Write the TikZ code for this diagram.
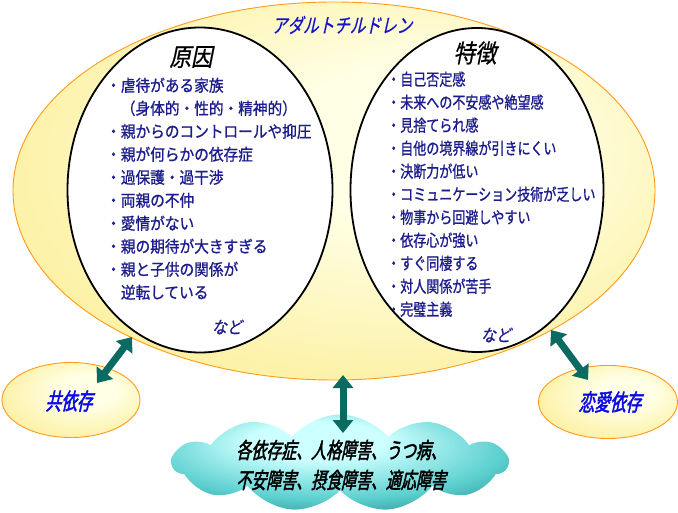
\documentclass[tikz,border=0pt]{standalone}
\usepackage{fontspec}
\usetikzlibrary{shapes.geometric,shapes.symbols,arrows.meta}

\newfontfamily\jplist[FakeStretch=0.9,FakeBold=0.9]{Noto Sans CJK JP}
\newfontfamily\jplistn[FakeStretch=0.79,FakeBold=0.9]{Noto Sans CJK JP}
\newfontfamily\jptitle[FakeSlant=0.22,FakeStretch=0.78,FakeBold=0.6]{Noto Sans CJK JP}
\newfontfamily\jphead[FakeSlant=0.2,FakeStretch=0.86,FakeBold=0.6]{Noto Sans CJK JP}
\newfontfamily\jpnado[FakeSlant=0.2,FakeStretch=0.88,FakeBold=0.7]{Noto Sans CJK JP}
\newfontfamily\jpbold[FakeSlant=0.22,FakeStretch=0.68,FakeBold=2]{Noto Sans CJK JP}

\definecolor{yIn}{HTML}{FFFFE6}
\definecolor{yOut}{HTML}{FCEE96}
\definecolor{acorange}{HTML}{FF9A1A}
\definecolor{titleblue}{HTML}{1414C8}
\definecolor{listblue}{HTML}{1C1C8C}
\definecolor{labelblue}{HTML}{0A0AE6}
\definecolor{arrowteal}{HTML}{0B6A62}
\definecolor{cIn}{HTML}{CCFFFF}
\definecolor{cMid}{HTML}{5CCFCF}
\definecolor{cOut}{HTML}{1A7A7A}

\pgfdeclareradialshading{yshade}{\pgfpoint{8bp}{8bp}}{color(0bp)=(yIn); color(10bp)=(yIn); color(34bp)=(yOut); color(50bp)=(yOut)}
\pgfdeclareradialshading{cshade}{\pgfpoint{-4bp}{14bp}}{color(0bp)=(cIn); color(10bp)=(cIn); color(26bp)=(cMid); color(40bp)=(cOut); color(50bp)=(cOut)}

\begin{document}
\begin{tikzpicture}[x=1pt,y=-1pt,
	warm/.style={ellipse, draw=acorange, line width=0.9pt, shading=yshade, inner sep=0pt},
	core/.style={ellipse, draw=black, line width=1.8pt, fill=white, inner sep=0pt},
	dbl/.style={{Triangle[width=20pt,length=13pt]}-{Triangle[width=20pt,length=13pt]}, line width=7pt, draw=arrowteal},
	item/.style={anchor=base west, inner sep=0pt, text=listblue}]
	\useasboundingbox (0,0) rectangle (678,513);

	%ellipses
	\node[warm, minimum width=642pt, minimum height=378pt] (ac) at (334,191) {};
	\node[core, minimum width=265pt, minimum height=325pt] (cause) at (200,190) {};
	\node[core, minimum width=253pt, minimum height=324pt] (trait) at (477,190) {};

	\node[font=\jptitle\fontsize{20}{20}\selectfont, text=titleblue] (title) at (342,25) {アダルトチルドレン};
	\node[font=\jphead\fontsize{25}{25}\selectfont] (causehead) at (191,57) {原因};
	\node[font=\jphead\fontsize{25}{25}\selectfont] (traithead) at (475,53) {特徴};

	%lists
	\foreach \t [count=\i from 0] in {・虐待がある家族, 　（身体的・性的・精神的）, ・親からのコントロールや抑圧,
		・親が何らかの依存症, ・過保護・過干渉, ・両親の不仲, ・愛情がない, ・親の期待が大きすぎる,
		・親と子供の関係が, 　逆転している}
		\node[item, font=\jplist\fontsize{16.3}{16.3}\selectfont] (L\i) at (106,{91.5+23*\i}) {\t};
	\foreach \t [count=\i from 0] in {・自己否定感, ・未来への不安感や絶望感, ・見捨てられ感, ・自他の境界線が引きにくい,
		・決断力が低い, ・コミュニケーション技術が乏しい, ・物事から回避しやすい, ・依存心が強い,
		・すぐ同棲する, ・対人関係が苦手, ・完璧主義}
		\node[item, font=\jplistn\fontsize{16.5}{16.5}\selectfont] (R\i) at (387,{85.5+23*\i}) {\t};

	\node[font=\jpnado\fontsize{17}{17}\selectfont, text=listblue] (causeetc) at (227,327) {など};
	\node[font=\jpnado\fontsize{17}{17}\selectfont, text=listblue] (traitetc) at (496,335) {など};

	%side ellipses and cloud
	\node[warm, minimum width=138pt, minimum height=75pt] (kyo) at (71,400) {};
	\node[font=\jpbold\fontsize{23}{23}\selectfont, text=labelblue] (kyotxt) at (69,401) {共依存};
	\node[warm, minimum width=139pt, minimum height=73pt] (ren) at (608,402) {};
	\node[font=\jpbold\fontsize{23}{23}\selectfont, text=labelblue] (rentxt) at (610,402) {恋愛依存};

	\node[cloud, cloud puffs=11, cloud puff arc=100, cloud ignores aspect, shading=cshade,
		minimum width=335pt, minimum height=97pt, inner sep=0pt] (cld) at (340,463) {};
	\node[font=\jpbold\fontsize{22}{30}\selectfont, align=center] (cldtxt) at (341,465)
		{各依存症、人格障害、うつ病、\\不安障害、摂食障害、適応障害};

	%arrows
	\coordinate (kyoE) at (97,383);
	\coordinate (acSW) at (132,337);
	\coordinate (acS) at (343,375);
	\coordinate (cldN) at (343,433);
	\coordinate (acSE) at (551,330);
	\coordinate (renE) at (588,380);
	\draw[dbl] (kyoE) -- (acSW);
	\draw[dbl] (acS) -- (cldN);
	\draw[dbl] (acSE) -- (renE);
\end{tikzpicture}
\end{document}
